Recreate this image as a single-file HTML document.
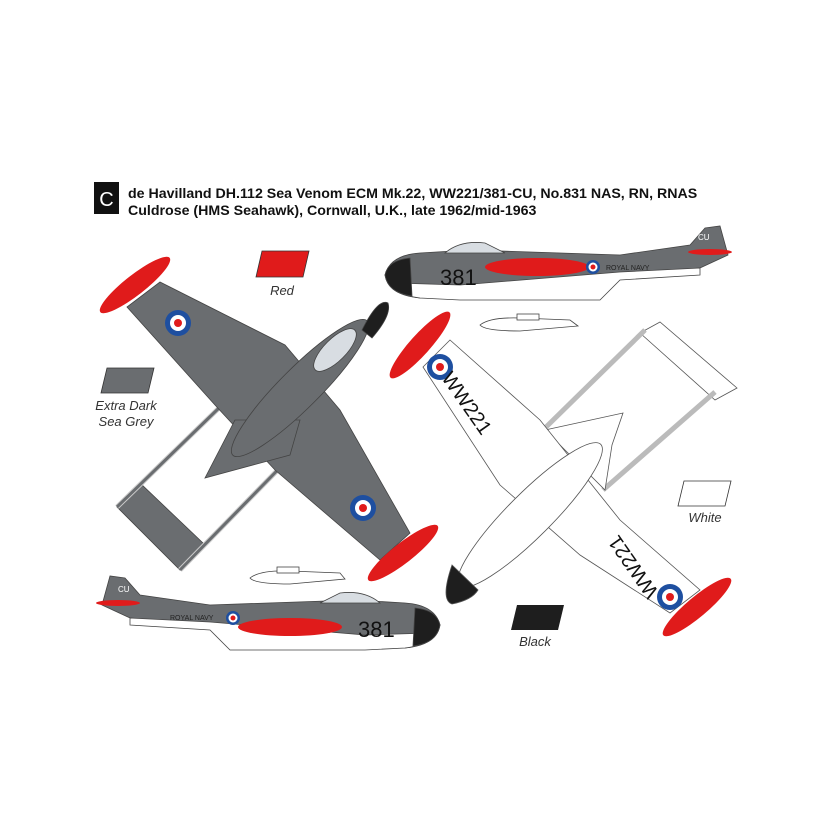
<!DOCTYPE html>
<html><head><style>
body{margin:0;background:#fff;}
svg{display:block;font-family:"Liberation Sans",Arial,sans-serif;}
</style></head><body>
<svg width="830" height="830" viewBox="0 0 830 830" xmlns="http://www.w3.org/2000/svg">
<rect width="830" height="830" fill="#fff"/>
<!-- header -->
<rect x="94" y="182" width="25" height="32" fill="#111"/>
<text x="106.5" y="206" font-size="20" fill="#fff" text-anchor="middle">C</text>
<text x="128" y="198" font-size="14.2" font-weight="bold" fill="#111">de Havilland DH.112 Sea Venom ECM Mk.22, WW221/381-CU, No.831 NAS, RN, RNAS</text>
<text x="128" y="215" font-size="14.2" font-weight="bold" fill="#111">Culdrose (HMS Seahawk), Cornwall, U.K., late 1962/mid-1963</text>

<!-- swatches -->
<polygon points="262,251 309,251 303,277 256,277" fill="#e01b1b" stroke="#333" stroke-width="0.8"/>
<text x="282" y="295" font-size="13" font-style="italic" fill="#333" text-anchor="middle">Red</text>
<polygon points="107,368 154,368 148,393 101,393" fill="#6a6d70" stroke="#333" stroke-width="0.8"/>
<text x="126" y="410" font-size="13" font-style="italic" fill="#333" text-anchor="middle">Extra Dark</text>
<text x="126" y="426" font-size="13" font-style="italic" fill="#333" text-anchor="middle">Sea Grey</text>
<polygon points="684,481 731,481 725,506 678,506" fill="#fff" stroke="#333" stroke-width="0.8"/>
<text x="705" y="522" font-size="13" font-style="italic" fill="#333" text-anchor="middle">White</text>
<polygon points="517,605 564,605 558,630 511,630" fill="#1e1e1e"/>
<text x="535" y="646" font-size="13" font-style="italic" fill="#333" text-anchor="middle">Black</text>

<!-- grey plan view -->
<g stroke="#444" stroke-width="0.8">
<polygon points="117,507 140,483 203,543 180,570" fill="#6a6d70"/>
<line x1="220" y1="407" x2="117" y2="507" stroke="#ccc" stroke-width="5"/>
<line x1="307" y1="440" x2="180" y2="570" stroke="#ccc" stroke-width="5"/>
<line x1="220" y1="407" x2="117" y2="507" stroke="#6a6d70" stroke-width="3"/>
<line x1="307" y1="440" x2="180" y2="570" stroke="#6a6d70" stroke-width="3"/>
<polygon points="127,307 160,282 285,345 340,410 410,533 380,560 275,470 215,405" fill="#6a6d70"/>
<polygon points="235,420 300,420 290,455 205,478" fill="#6a6d70"/>
<ellipse cx="300" cy="388" rx="20" ry="95" transform="rotate(45 300 388)" fill="#6a6d70"/>
<path d="M362,330 Q378,298 388,303 Q392,315 372,338 Z" fill="#1e1e1e"/>
<ellipse cx="335" cy="350" rx="11" ry="28" transform="rotate(45 335 350)" fill="#d8dde2"/>
</g>
<circle cx="178" cy="323" r="13" fill="#1e4fa0"/><circle cx="178" cy="323" r="8" fill="#fff"/><circle cx="178" cy="323" r="4" fill="#e01b1b"/>
<circle cx="363" cy="508" r="13" fill="#1e4fa0"/><circle cx="363" cy="508" r="8" fill="#fff"/><circle cx="363" cy="508" r="4" fill="#e01b1b"/>
<ellipse cx="135" cy="285" rx="44" ry="10" transform="rotate(-38 135 285)" fill="#e01b1b"/>
<ellipse cx="403" cy="553" rx="44" ry="10" transform="rotate(-38 403 553)" fill="#e01b1b"/>

<!-- white plan view -->
<g stroke="#555" stroke-width="0.8" fill="#fff">
<polygon points="640,333 660,322 737,388 715,400"/>
<line x1="543" y1="430" x2="645" y2="330" stroke="#bbb" stroke-width="5"/>
<line x1="603" y1="490" x2="715" y2="392" stroke="#bbb" stroke-width="5"/>
<polygon points="545,430 623,413 612,445 605,490"/>
<polygon points="423,367 450,340 540,420 620,520 700,590 670,613 580,555 500,485"/>
<ellipse cx="530" cy="515" rx="22" ry="100" transform="rotate(45 530 515)"/>
<path d="M452,565 Q440,600 452,604 Q472,600 478,590 Z" fill="#1e1e1e"/>
</g>
<ellipse cx="420" cy="345" rx="44" ry="10" transform="rotate(-48 420 345)" fill="#e01b1b"/>
<ellipse cx="697" cy="607" rx="44" ry="10" transform="rotate(-40 697 607)" fill="#e01b1b"/>
<circle cx="440" cy="367" r="13" fill="#1e4fa0"/><circle cx="440" cy="367" r="8" fill="#fff"/><circle cx="440" cy="367" r="4" fill="#e01b1b"/>
<circle cx="670" cy="597" r="13" fill="#1e4fa0"/><circle cx="670" cy="597" r="8" fill="#fff"/><circle cx="670" cy="597" r="4" fill="#e01b1b"/>
<text x="467" y="410" font-size="20" fill="#111" text-anchor="middle" transform="rotate(55 467 403)">WW221</text>
<text x="633" y="574" font-size="20" fill="#111" text-anchor="middle" transform="rotate(-125 633 567)">WW221</text>

<!-- top side view -->
<g stroke="#444" stroke-width="0.8">
<path d="M385,275 Q390,255 420,253 L470,250 L620,255 L690,245 L705,228 L720,226 L728,255 L700,268 L620,275 L580,285 L470,292 L420,298 Q388,295 385,275 Z" fill="#6a6d70"/>
<path d="M395,283 L460,285 L620,272 L700,268 L700,275 L620,280 L600,300 L460,300 L420,298 Q395,295 395,283 Z" fill="#fff"/>
<path d="M445,253 Q460,240 485,243 L505,253 Z" fill="#d8dde2"/>
<path d="M385,275 Q388,260 410,258 L412,296 Q388,293 385,275 Z" fill="#1e1e1e"/>
</g>
<ellipse cx="537" cy="267" rx="52" ry="9" fill="#e01b1b"/>
<ellipse cx="710" cy="252" rx="22" ry="3" fill="#e01b1b"/>
<circle cx="593" cy="267" r="7" fill="#1e4fa0"/><circle cx="593" cy="267" r="4.5" fill="#fff"/><circle cx="593" cy="267" r="2.5" fill="#e01b1b"/>
<text x="440" y="285" font-size="22" fill="#111">381</text>
<text x="606" y="270" font-size="7" fill="#222">ROYAL NAVY</text>
<text x="698" y="240" font-size="8" fill="#fff">CU</text>
<path d="M480,325 Q490,317 520,318 L570,320 L578,326 L520,331 Q485,331 480,325 Z" fill="#fff" stroke="#444" stroke-width="0.8"/>
<rect x="517" y="314" width="22" height="6" fill="#fff" stroke="#444" stroke-width="0.8"/>

<!-- bottom side view -->
<g stroke="#444" stroke-width="0.8">
<path d="M440,625 Q435,605 405,603 L355,600 L210,605 L140,595 L125,578 L110,576 L102,605 L130,618 L210,625 L250,635 L355,642 L405,648 Q437,645 440,625 Z" fill="#6a6d70"/>
<path d="M430,633 L365,635 L210,622 L130,618 L130,625 L210,630 L230,650 L365,650 L405,648 Q430,645 430,633 Z" fill="#fff"/>
<path d="M380,603 Q365,590 340,593 L320,603 Z" fill="#d8dde2"/>
<path d="M440,625 Q437,610 415,608 L413,646 Q437,643 440,625 Z" fill="#1e1e1e"/>
</g>
<ellipse cx="290" cy="627" rx="52" ry="9" fill="#e01b1b"/>
<ellipse cx="118" cy="603" rx="22" ry="3" fill="#e01b1b"/>
<circle cx="233" cy="618" r="7" fill="#1e4fa0"/><circle cx="233" cy="618" r="4.5" fill="#fff"/><circle cx="233" cy="618" r="2.5" fill="#e01b1b"/>
<text x="358" y="637" font-size="22" fill="#111">381</text>
<text x="170" y="620" font-size="7" fill="#222">ROYAL NAVY</text>
<text x="118" y="592" font-size="8" fill="#fff">CU</text>
<path d="M250,578 Q260,570 290,571 L340,573 L345,579 L290,584 Q255,584 250,578 Z" fill="#fff" stroke="#444" stroke-width="0.8"/>
<rect x="277" y="567" width="22" height="6" fill="#fff" stroke="#444" stroke-width="0.8"/>
</svg>
</body></html>
